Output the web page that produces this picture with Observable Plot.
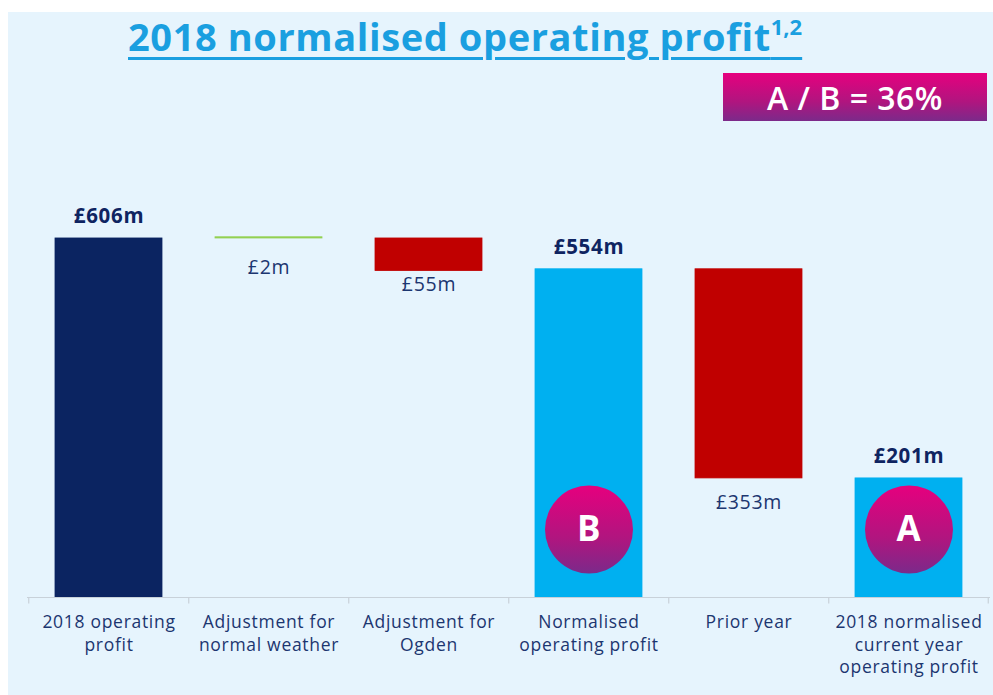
<!DOCTYPE html>
<html>
<head>
<meta charset="utf-8">
<script src="https://cdn.jsdelivr.net/npm/d3@7"></script>
<script src="https://cdn.jsdelivr.net/npm/@observablehq/plot@0.6"></script>
<style>
  html, body { margin: 0; padding: 0; background: #ffffff; }
  #page { position: relative; width: 993px; height: 695px; overflow: hidden; background: #ffffff; font-family: "Open Sans", sans-serif; }
  #panel { position: absolute; left: 8px; top: 12px; right: 0; bottom: 0; background: #e6f4fd; }
  #head { position: relative; height: 130px; }
  #title { position: absolute; left: 128px; top: 14px; margin: 0; font-size: 38px; font-weight: 700; color: #1a9fe0; white-space: nowrap; text-decoration: underline; text-decoration-thickness: 3px; text-underline-offset: 6px; line-height: 1.2; letter-spacing: 0.6px; }
  #title sup { font-size: 22px; position: relative; top: -2px; letter-spacing: 0; }
  #ratio { position: absolute; left: 723px; top: 73px; width: 264px; height: 48px; background: linear-gradient(#e6007e, #b0157f 60%, #7b2a8a); color: #ffffff; font-size: 32px; font-weight: 600; letter-spacing: 0.5px; display: flex; align-items: center; justify-content: center; }
  #chart { position: absolute; left: 0; top: 130px; }
  #chart svg text { letter-spacing: 0.7px; }
</style>
</head>
<body>
<div id="page">
  <div id="panel"></div>
  <div id="head">
    <div id="title">2018 normalised operating profit<sup>1,2</sup></div>
    <div id="ratio"></div>
  </div>
  <div id="chart"></div>
</div>
<script>
// ---- data ----
const categories = [
  "2018 operating profit",
  "Adjustment for normal weather",
  "Adjustment for Ogden",
  "Normalised operating profit",
  "Prior year",
  "2018 normalised current year operating profit"
];
const tickLabels = [
  "2018 operating\nprofit",
  "Adjustment for\nnormal weather",
  "Adjustment for\nOgden",
  "Normalised\noperating profit",
  "Prior year",
  "2018 normalised\ncurrent year\noperating profit"
];
const barStart = [0, 606, 606, 0, 554, 0];
const barEnd = [606, 608, 551, 554, 201, 201];
const barKind = ["total", "increase", "decrease", "total", "decrease", "result"];
const valueLabels = ["£606m", "£2m", "£55m", "£554m", "£353m", "£201m"];
const markerLetters = [null, null, null, "B", null, "A"];
const ratioText = "A / B = 36%";

// ---- build ----
document.getElementById("ratio").textContent = ratioText;

const rows = categories.map((c, i) => ({
  cat: c, start: barStart[i], end: barEnd[i], kind: barKind[i],
  label: valueLabels[i], tick: tickLabels[i], marker: markerLetters[i]
}));

const kindColor = { total: "#0b2461", increase: "#92d050", decrease: "#c00000", result: "#00b0f0" };
const totalColor = i => (i === 0 ? "#0b2461" : "#00b0f0");

const W = 993, H = 565;
const mL = 27, mR = 3;
const step = (W - mL - mR) / categories.length;

const navy = "#1c3670";
const boldNavy = "#0e2461";

// offsets for labels below change bars (style only)
const belowOffsets = { increase: 30, "Adjustment for Ogden": 14, "Prior year": 24 };

const belowMarks = rows.filter(d => d.kind === "increase" || d.kind === "decrease").map(d =>
  Plot.text([d], {
    x: "cat", y: "end", text: "label",
    dy: d.kind === "increase" ? belowOffsets.increase : belowOffsets[d.cat],
    fill: navy, fontSize: 19.5, fontWeight: 400
  })
);

const chart = Plot.plot({
  width: W,
  height: H,
  marginLeft: mL,
  marginRight: mR,
  marginTop: 20,
  marginBottom: 98,
  style: { background: "transparent", fontFamily: "'Open Sans', sans-serif", overflow: "visible" },
  x: { domain: categories, paddingInner: 0.33, paddingOuter: 0.165, axis: null },
  y: { domain: [0, 754.5], axis: null },
  color: { type: "identity" },
  marks: [
    Plot.barY(rows, {
      x: "cat", y1: "start", y2: "end",
      fill: (d, i) => d.kind === "total" ? totalColor(i) : kindColor[d.kind],
      stroke: (d, i) => d.kind === "total" ? totalColor(i) : kindColor[d.kind],
      strokeWidth: 0.8
    }),
    Plot.ruleY([0], { stroke: "#c8d1d9", strokeWidth: 1.2 }),
    Plot.ruleX(rows, { x: "cat", dx: -step / 2, y1: 0, y2: -11, stroke: "#c8d1d9", strokeWidth: 1.2 }),
    Plot.ruleX(rows.slice(-1), { x: "cat", dx: step / 2 - 1, y1: 0, y2: -11, stroke: "#c8d1d9", strokeWidth: 1.2 }),
    Plot.text(rows, {
      x: "cat", y: () => 0, text: "tick", lineAnchor: "top", dy: 15, lineHeight: 1.28,
      fill: navy, fontSize: 17.5
    }),
    Plot.text(rows.filter(d => d.kind === "total" || d.kind === "result"), {
      x: "cat", y: "end", text: "label", dy: -22, fill: boldNavy, fontSize: 20.5, fontWeight: 700
    }),
    ...belowMarks,
    Plot.dot(rows.filter(d => d.marker), {
      x: "cat", y: () => 0, dy: -68, r: 44, fill: "url(#abGrad)", stroke: "none"
    }),
    Plot.text(rows.filter(d => d.marker), {
      x: "cat", y: () => 0, dy: -68, text: "marker", fill: "#ffffff", fontSize: 35, fontWeight: 700
    })
  ]
});

const svg = d3.select(chart);
const defs = svg.insert("defs", ":first-child");
const grad = defs.append("linearGradient").attr("id", "abGrad").attr("x1", 0).attr("y1", 0).attr("x2", 0).attr("y2", 1);
grad.append("stop").attr("offset", "0%").attr("stop-color", "#e6007e");
grad.append("stop").attr("offset", "60%").attr("stop-color", "#b0157f");
grad.append("stop").attr("offset", "100%").attr("stop-color", "#7b2a8a");

document.getElementById("chart").appendChild(chart);
</script>
</body>
</html>
